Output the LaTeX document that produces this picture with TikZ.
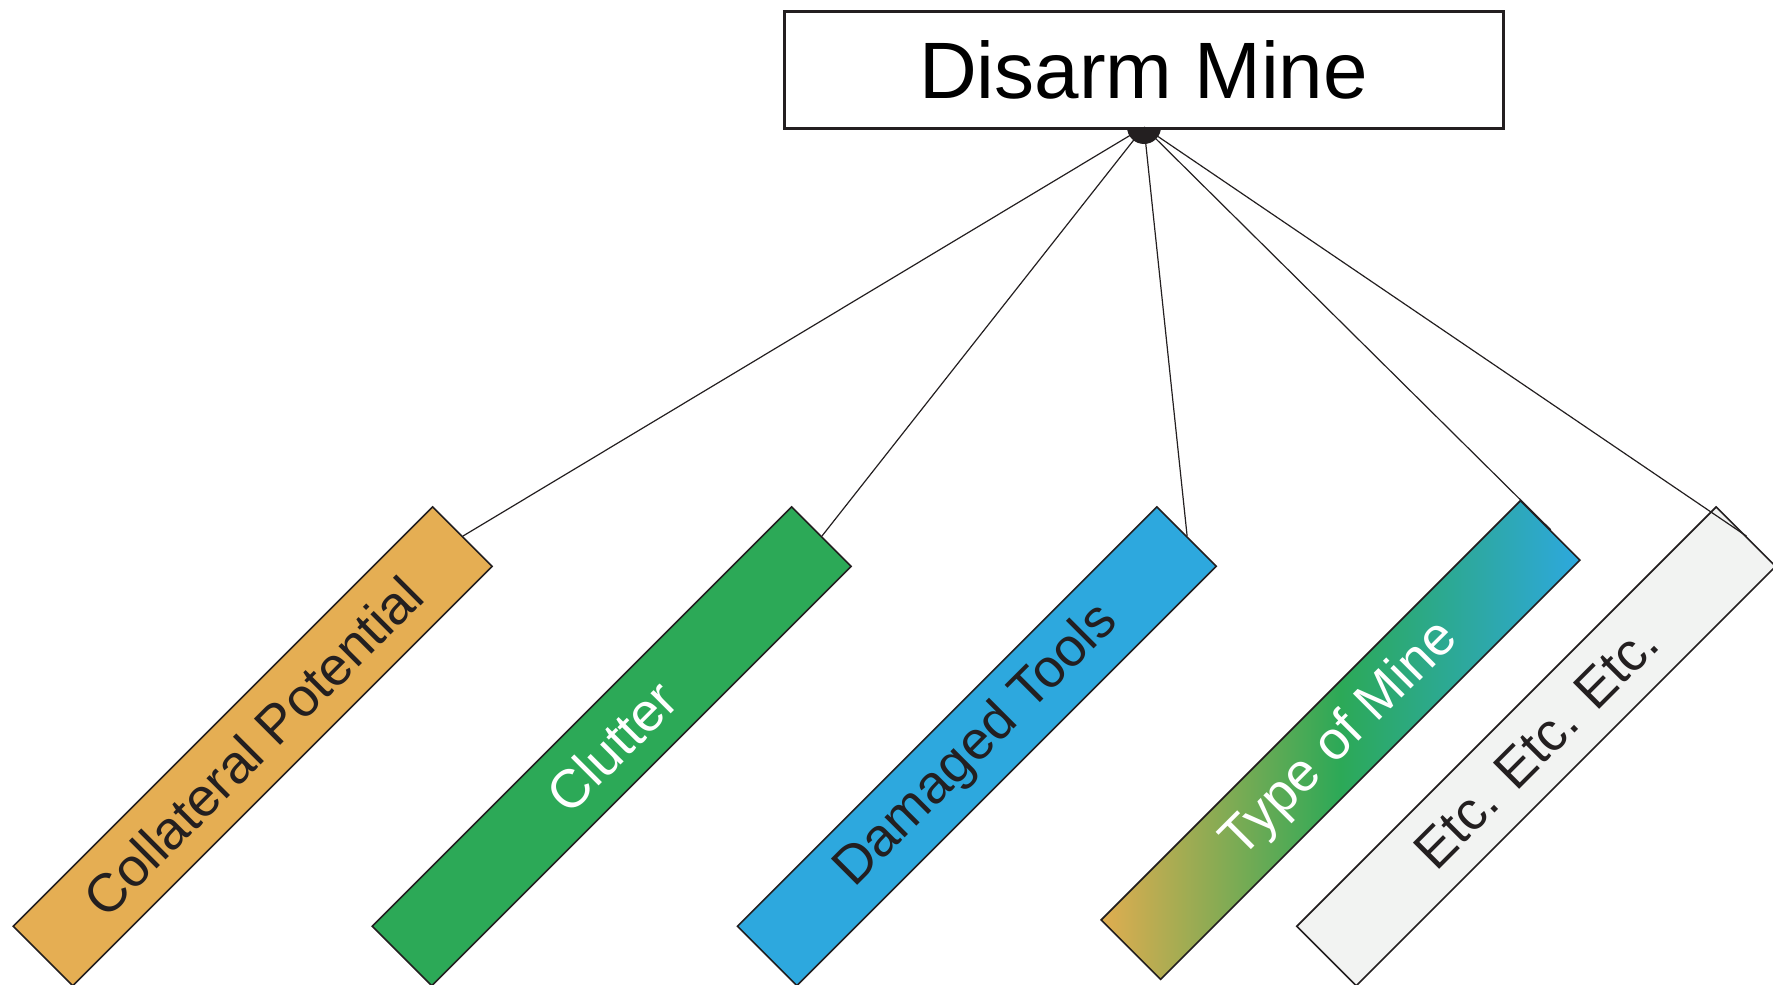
\documentclass[tikz,border=0pt]{standalone}
\usepackage{fontspec}
\setmainfont{Liberation Sans}
\pgfdeclarelayer{back}
\pgfsetlayers{back,main}

\definecolor{ink}{HTML}{231F20}
\definecolor{amber}{HTML}{E5AE53}
\definecolor{leaf}{HTML}{2CA957}
\definecolor{sky}{HTML}{2DA8DE}
\definecolor{mist}{HTML}{F2F3F2}
\definecolor{ochre}{HTML}{E0AD50}

\begin{document}
\begin{tikzpicture}[x=0.5pt,y=-0.5pt,
  factor/.style={draw=ink, line width=0.8pt, rotate=45,
    minimum width=296.5pt, minimum height=42pt, inner sep=0pt,
    text=ink, font=\fontsize{27}{31}\selectfont},
  goalbox/.style={draw=ink, line width=1.5pt, fill=white,
    minimum width=359.5pt, minimum height=58.5pt, inner sep=0pt,
    text=black, font=\fontsize{40}{48}\selectfont},
  link/.style={draw=ink, line width=0.6pt}]

\useasboundingbox (0,0) rectangle (1773,985);

% hub where all branches meet, half hidden by the goal box
\node[circle, fill=ink, minimum size=17pt, inner sep=0pt] (hub) at (1144,127) {};
\node[goalbox] (goal) at (1143.5,69.5) {Disarm Mine};

% contributing factors
\node[factor, fill=amber] (collateral) at (252.7,746.3) {Collateral Potential};
\node[factor, fill=leaf, text=white] (clutter) at (611.7,746.3) {Clutter};
\node[factor, fill=sky] (tools) at (976.9,746.3) {Damaged Tools};
\node[factor, left color=ochre, right color=sky, middle color=leaf, text=white] (minetype) at (1340.5,740) {Type of Mine};
\node[factor, fill=mist] (etc) at (1536.2,746.3) {Etc. Etc. Etc.};

% branches from the hub
\begin{pgfonlayer}{back}
  \draw[link] (hub.center) -- (collateral.east);
  \draw[link] (hub.center) -- (clutter.east);
  \draw[link] (hub.center) -- (tools.east);
  \draw[link] (hub.center) -- (minetype.east);
\end{pgfonlayer}
\draw[link] (hub.center) -- (etc.east);

\end{tikzpicture}
\end{document}
